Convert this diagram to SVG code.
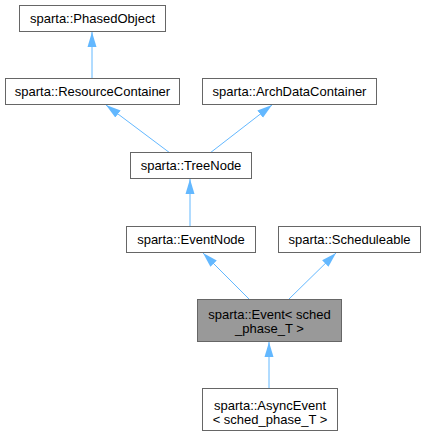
<svg xmlns="http://www.w3.org/2000/svg" width="425" height="435" viewBox="0 0 425 435">
<style>
.n rect{fill:#fff;stroke:#666;stroke-width:1}
.n.cur rect{fill:#999}
text{font-family:"Liberation Sans",Arial,Helvetica,sans-serif;font-size:13px;fill:#000;text-anchor:middle}
.e{stroke:#63b8ff;stroke-width:1;fill:none;marker-end:url(#a)}
</style>
<defs>
<marker id="a" viewBox="0 0 15 10" refX="15" refY="5" markerWidth="15" markerHeight="10" markerUnits="userSpaceOnUse" orient="auto">
<path d="M0,0.5 L15,5 L0,9.5 Z" fill="#63b8ff"/>
</marker>
</defs>
<rect width="425" height="435" fill="#fff"/>
<g id="edges">
<path class="e" d="M92,79 L92,32"/>
<path class="e" d="M170,153 L106,105"/>
<path class="e" d="M210,153 L272,105"/>
<path class="e" d="M190,226 L190,179"/>
<path class="e" d="M249,299 L203,253"/>
<path class="e" d="M289,299 L336,253"/>
<path class="e" d="M269,388 L269,342"/>
</g>
<g id="PhasedObject" class="n"><rect x="19.5" y="5.5" width="146" height="26"/><text x="92.5" y="23">sparta::PhasedObject</text></g>
<g id="ResourceContainer" class="n"><rect x="5.5" y="78.5" width="174" height="26"/><text x="92.5" y="96">sparta::ResourceContainer</text></g>
<g id="ArchDataContainer" class="n"><rect x="202.5" y="78.5" width="174" height="26"/><text x="289.5" y="96">sparta::ArchDataContainer</text></g>
<g id="TreeNode" class="n"><rect x="130.5" y="152.5" width="121" height="26"/><text x="191" y="170">sparta::TreeNode</text></g>
<g id="EventNode" class="n"><rect x="126.5" y="226.5" width="129" height="26"/><text x="191" y="244">sparta::EventNode</text></g>
<g id="Scheduleable" class="n"><rect x="278.5" y="226.5" width="142" height="26"/><text x="349.5" y="244">sparta::Scheduleable</text></g>
<g id="Event" class="n cur"><rect x="197.5" y="299.5" width="144" height="42"/><text x="269.5" y="319">sparta::Event&lt; sched</text><text x="269.5" y="333">_phase_T &gt;</text></g>
<g id="AsyncEvent" class="n"><rect x="202.5" y="388.5" width="135" height="42"/><text x="270" y="410">sparta::AsyncEvent</text><text x="270" y="424">&lt; sched_phase_T &gt;</text></g>
</svg>
